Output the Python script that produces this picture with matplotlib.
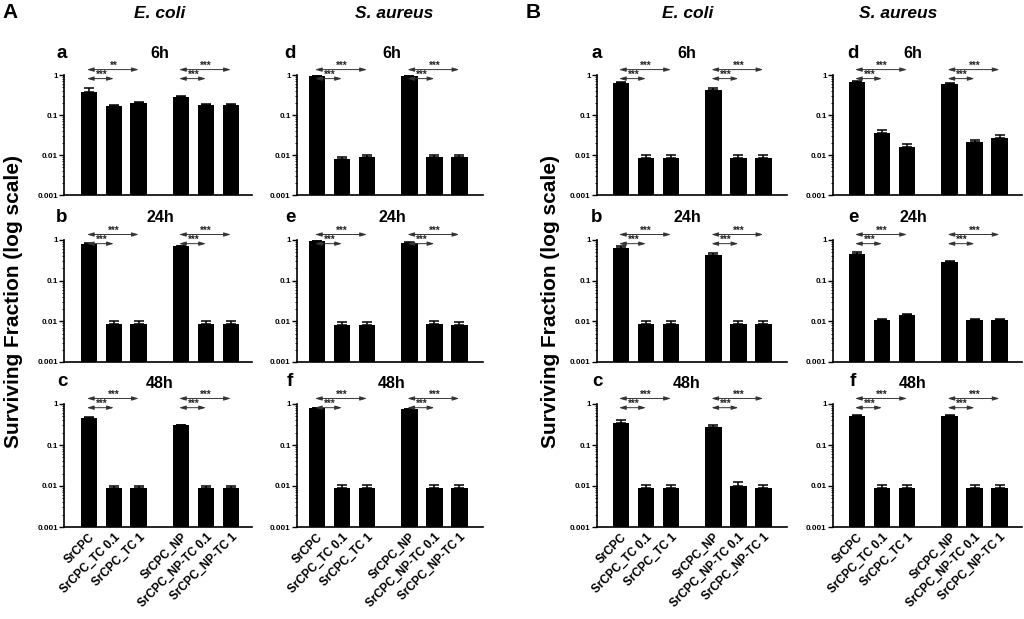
import numpy as np
import matplotlib
matplotlib.use("Agg")
import matplotlib.pyplot as plt
from matplotlib.ticker import NullFormatter, LogLocator
from matplotlib.transforms import blended_transform_factory

plt.rcParams["font.family"] = ["Liberation Sans", "DejaVu Sans"]
plt.rcParams["font.weight"] = "bold"

W, H = 1024, 619

groups = ["SrCPC", "SrCPC_TC 0.1", "SrCPC_TC 1",
          "SrCPC_NP", "SrCPC_NP-TC 0.1", "SrCPC_NP-TC 1"]
times = ["6h", "24h", "48h"]
species = ["E. coli", "S. aureus"]
letters_A = [["a", "b", "c"], ["d", "e", "f"]]
letters_B = [["a", "b", "c"], ["d", "e", "f"]]

# surviving fraction, rows = 6h, 24h, 48h
A_ecoli = [[0.38, 0.17, 0.20, 0.28, 0.18, 0.18],
           [0.80, 0.0087, 0.0087, 0.70, 0.0087, 0.0087],
           [0.45, 0.0087, 0.0087, 0.30, 0.0087, 0.0087]]
A_ecoli_err = [[0.09, 0.006, 0.008, 0.02, 0.006, 0.006],
               [0.03, 0.0015, 0.0015, 0.03, 0.0015, 0.0015],
               [0.02, 0.0015, 0.0015, 0.015, 0.0015, 0.0015]]
A_saureus = [[0.95, 0.0078, 0.0088, 0.93, 0.0088, 0.0088],
             [0.97, 0.0082, 0.0082, 0.85, 0.0088, 0.0082],
             [0.78, 0.0088, 0.0088, 0.74, 0.0088, 0.0088]]
A_saureus_err = [[0.03, 0.0012, 0.001, 0.04, 0.001, 0.001],
                 [0.02, 0.0012, 0.0012, 0.03, 0.0016, 0.0012],
                 [0.03, 0.0016, 0.0016, 0.02, 0.0016, 0.0016]]
B_ecoli = [[0.62, 0.0086, 0.0086, 0.41, 0.0086, 0.0086],
           [0.65, 0.0088, 0.0088, 0.42, 0.0088, 0.0088],
           [0.34, 0.0089, 0.0089, 0.28, 0.0098, 0.0089]]
B_ecoli_err = [[0.05, 0.0013, 0.0013, 0.07, 0.0013, 0.0013],
               [0.05, 0.0014, 0.0014, 0.05, 0.0014, 0.0014],
               [0.06, 0.0015, 0.0015, 0.02, 0.0025, 0.0015]]
B_saureus = [[0.68, 0.036, 0.0157, 0.60, 0.021, 0.026],
             [0.46, 0.011, 0.0147, 0.28, 0.011, 0.011],
             [0.52, 0.0089, 0.0089, 0.52, 0.0089, 0.0089]]
B_saureus_err = [[0.02, 0.006, 0.003, 0.02, 0.003, 0.006],
                 [0.06, 0.0003, 0.0005, 0.03, 0.0003, 0.0003],
                 [0.03, 0.0015, 0.0015, 0.03, 0.0015, 0.0015]]

# significance labels: (left short, left long, right short, right long)
stars_default = ["***", "***", "***", "***"]
stars_A_ecoli_6h = ["***", "**", "***", "***"]

x = np.array([0, 1, 2, 3.7, 4.7, 5.7])
bar_w = 0.66

# layout in pixels
col_left = [64, 297, 597, 833]
col_right = [252, 483, 787, 1022]
col_xlim = [(-1.0, 6.55), (-0.8, 6.65), (-0.96, 6.65), (-0.96, 6.6)]
row_top = [75, 240, 404]
row_bot = [195, 362, 527]
title_x = [160, 392, 687, 913]
letter_x = [62, 290, 597, 853]
title_y = [54, 218, 383]


def fx(px):
    return px / W


def fy(py):
    return 1 - py / H


fig = plt.figure(figsize=(W / 100, H / 100), dpi=100)

data = [(A_ecoli, A_ecoli_err), (A_saureus, A_saureus_err),
        (B_ecoli, B_ecoli_err), (B_saureus, B_saureus_err)]
letters = letters_A + letters_B

for c, (vals_rows, err_rows) in enumerate(data):
    for r in range(3):
        ax = fig.add_axes([fx(col_left[c]), fy(row_bot[r]),
                           fx(col_right[c] - col_left[c]),
                           (row_bot[r] - row_top[r]) / H])
        vals = np.array(vals_rows[r])
        errs = np.array(err_rows[r])
        ax.set_yscale("log")
        ax.bar(x, vals, width=bar_w, color="black", zorder=2)
        ax.errorbar(x, vals, yerr=[np.zeros(6), errs], fmt="none",
                    ecolor="black", elinewidth=1.1, capsize=3.5,
                    capthick=1.1, zorder=3)
        ax.set_ylim(0.001, 1)
        ax.set_xlim(*col_xlim[c])
        ax.set_yticks([0.001, 0.01, 0.1, 1], labels=["0.001", "0.01", "0.1", "1"])
        ax.yaxis.set_minor_locator(LogLocator(base=10, subs=np.arange(2, 10)))
        ax.yaxis.set_minor_formatter(NullFormatter())
        ax.tick_params(axis="y", which="major", length=3.5, width=1,
                       labelsize=5.8, pad=1)
        ax.tick_params(axis="y", which="minor", length=1.8, width=0.6)
        for s in ("top", "right"):
            ax.spines[s].set_visible(False)
        for s in ("left", "bottom"):
            ax.spines[s].set_linewidth(1.2)
        if r == 2:
            ax.set_xticks(x)
            ax.set_xticklabels(groups, rotation=45, ha="right",
                               rotation_mode="anchor", fontsize=8.5)
            ax.tick_params(axis="x", length=0, pad=3)
        else:
            ax.set_xticks([])

        # significance arrows
        stars = stars_A_ecoli_6h if (c == 0 and r == 0) else stars_default
        trans = blended_transform_factory(ax.transData, ax.transAxes)
        pairs = [(0, 1, 0.97), (0, 2, 1.045), (3, 4, 0.97), (3, 5, 1.045)]
        for k, (i0, i1, yy) in enumerate(pairs):
            ax.annotate("", xy=(x[i1], yy), xytext=(x[i0] - 0.08, yy),
                        xycoords=trans, textcoords=trans,
                        arrowprops=dict(arrowstyle="<|-|>,head_length=0.4,head_width=0.12",
                                        color="#333333", lw=0.7,
                                        shrinkA=0, shrinkB=0),
                        annotation_clip=False)
            ax.text((x[i0] + x[i1]) / 2, yy - 0.01, stars[k], transform=trans,
                    ha="center", va="bottom", fontsize=7, color="#222222",
                    clip_on=False)

        fig.text(fx(title_x[c]), fy(title_y[r]), times[r], ha="center",
                 va="center", fontsize=11.5)
        fig.text(fx(letter_x[c]), fy(title_y[r] - 1), letters[c][r],
                 ha="center", va="center", fontsize=13.5)

# column headers and panel letters
header_x = [160, 394, 688, 898]
for c in range(4):
    fig.text(fx(header_x[c]), fy(14), species[c % 2], ha="center",
             va="center", fontsize=12.5, style="italic")
fig.text(fx(2), fy(13), "A", ha="left", va="center", fontsize=15)
fig.text(fx(526), fy(13), "B", ha="left", va="center", fontsize=15)

for px in (14, 550):
    fig.text(fx(px), fy(302), "Surviving Fraction (log scale)", rotation=90,
             ha="center", va="center", fontsize=15)

fig.savefig("out.png", dpi=100)
